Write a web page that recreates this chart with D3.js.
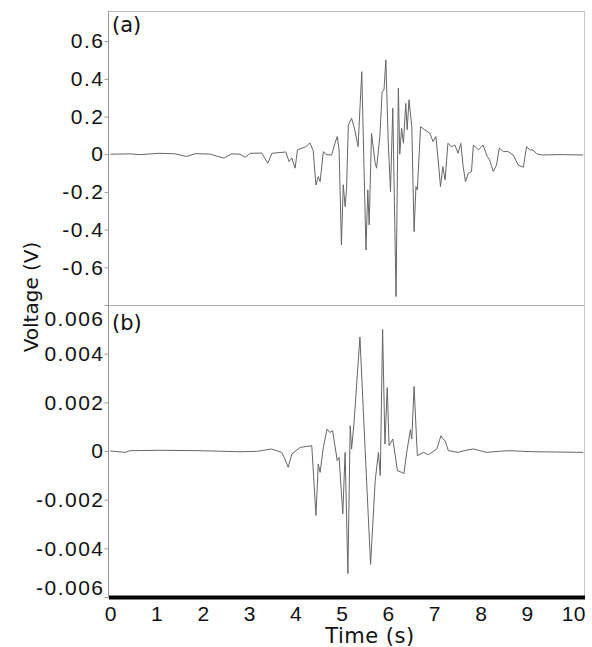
<!DOCTYPE html>
<html>
<head>
<meta charset="utf-8">
<script src="https://cdn.jsdelivr.net/npm/d3@7"></script>
<style>
  body { margin: 0; background: #fff; }
  svg { display: block; font-family: "DejaVu Sans", sans-serif; }
</style>
</head>
<body>
<script>
// panel (a): time (s) and voltage (V)
const timeA = [0, 0.42, 0.64, 1.07, 1.40, 1.65, 1.83, 2.15, 2.45, 2.62, 2.80, 2.91, 3.02, 3.27, 3.40, 3.49,
  3.79, 3.86, 3.92, 3.99, 4.04, 4.14, 4.22, 4.31, 4.38, 4.44, 4.49, 4.53, 4.60, 4.66, 4.78, 4.85, 4.90, 4.94,
  4.99, 5.03, 5.07, 5.10, 5.14, 5.21, 5.28, 5.35, 5.43, 5.52, 5.56, 5.59, 5.64, 5.72, 5.75, 5.82, 5.87, 5.91,
  5.95, 6.00, 6.05, 6.10, 6.17, 6.22, 6.25, 6.29, 6.33, 6.38, 6.41, 6.45, 6.51, 6.56, 6.60, 6.63, 6.70, 6.79,
  6.90, 6.97, 7.03, 7.08, 7.13, 7.18, 7.23, 7.29, 7.37, 7.44, 7.51, 7.57, 7.62, 7.67, 7.73, 7.80, 7.84, 7.95,
  8.05, 8.14, 8.19, 8.27, 8.34, 8.40, 8.49, 8.59, 8.70, 8.81, 8.92, 8.99, 9.06, 9.13, 9.21, 9.32, 9.71, 10.21];
const voltA = [0, 0.002, -0.002, 0.005, 0.002, -0.012, 0.003, 0.001, -0.021, 0.002, 0.0, -0.016, 0.005, 0.006, -0.048, 0.005,
  0.012, -0.039, -0.020, -0.074, 0.023, 0.032, 0.040, 0.060, 0.020, -0.163, -0.119, -0.145, 0.014, -0.002, -0.004, 0.058, 0.094, 0.023,
  -0.481, -0.162, -0.278, -0.189, 0.155, 0.191, 0.129, 0.040, 0.438, -0.508, -0.189, -0.375, 0.111, -0.048, -0.074, 0.094, 0.332, 0.341,
  0.500, 0.076, -0.199, 0.244, -0.755, 0.350, 0.0, 0.138, 0.058, 0.270, 0.130, 0.289, 0.146, -0.410, -0.172, -0.189, 0.146, 0.130,
  0.111, 0.067, 0.094, -0.030, -0.172, -0.066, -0.136, 0.058, 0.040, 0.049, 0.005, 0.058, -0.066, -0.146, -0.101, -0.092, 0.049, 0.023,
  0.049, -0.012, -0.030, -0.092, -0.057, 0.032, 0.014, 0.014, -0.004, -0.057, -0.069, 0.040, 0.023, 0.023, 0.002, -0.004, -0.002, -0.004];

// panel (b): time (s) and voltage (V)
const timeB = [0, 0.32, 0.42, 1.07, 1.94, 2.80, 3.16, 3.48, 3.70, 3.77, 3.84, 3.92, 4.10, 4.35, 4.44, 4.49, 4.53,
  4.60, 4.68, 4.74, 4.80, 4.90, 4.94, 5.02, 5.07, 5.13, 5.18, 5.21, 5.26, 5.39, 5.50, 5.62, 5.72, 5.79, 5.83,
  5.88, 5.93, 5.98, 6.02, 6.10, 6.20, 6.29, 6.34, 6.40, 6.48, 6.51, 6.56, 6.63, 6.76, 6.87, 7.05, 7.14, 7.18,
  7.23, 7.30, 7.51, 7.68, 7.84, 8.13, 8.41, 8.63, 9.13, 10.21];
const voltB = [0, -0.000057, 0.000012, 0.00003, 0.000012, -0.00003, -0.000016, 0.000082, -0.000057, -0.000328, -0.000672, -0.000123, 0.000147, 0.000217, -0.00265, -0.000533, -0.000877,
  0.000147, 0.000901, 0.000762, 0.000832, -0.000397, -0.000262, -0.002581, -0.000057, -0.00504, 0.001036, 0.000082, 0.001106, 0.004682, 0.000147, -0.004658, -0.001217, -0.000057, -0.001012,
  0.004998, 0.000287, 0.002605, 0.000217, 0.000492, -0.000807, -0.000877, -0.00093, -0.00007, 0.000873, 0.000492, 0.002654, -0.000193, -0.000057, -0.000152, 0.000082, 0.000627, 0.0005,
  0.000422, 0.000012, -0.000057, 0.00003, 0.000082, -0.000057, -0.000008, 0.000012, -0.00003, -0.000057];

const xTicks = [0, 1, 2, 3, 4, 5, 6, 7, 8, 9, 10];
const yTicksA = [-0.6, -0.4, -0.2, 0, 0.2, 0.4, 0.6];
const yTicksB = [-0.006, -0.004, -0.002, 0, 0.002, 0.004, 0.006];

let width = 592, height = 647;
let left = 109, right = 584;
let topA = 11, midY = 305, bottomB = 597;

let svg = d3.select('body').append('svg')
    .attr('width', width)
    .attr('height', height);

let xScale = d3.scaleLinear().domain([-0.03, 10.23]).range([left, right]);
let yScaleA = d3.scaleLinear().domain([-0.8, 0.76]).range([midY, topA]);
let yScaleB = d3.scaleLinear().domain([-0.006, 0.006]).range([bottomB, midY]);

// frame lines
svg.append('line').attr('x1', left).attr('x2', right).attr('y1', topA + 0.5).attr('y2', topA + 0.5)
    .attr('stroke', '#bdbdbd');
svg.append('line').attr('x1', right + 0.5).attr('x2', right + 0.5).attr('y1', topA).attr('y2', bottomB)
    .attr('stroke', '#c8c8c8');
svg.append('line').attr('x1', left).attr('x2', right).attr('y1', midY + 0.5).attr('y2', midY + 0.5)
    .attr('stroke', '#b0b0b0');

let drawYAxis = (scale, ticks, yTop, yBottom) => {
    let g = svg.append('g')
        .attr('transform', `translate(${left - 0.5},0)`)
        .call(d3.axisLeft(scale).tickValues(ticks).tickSize(4).tickPadding(0).tickFormat(d => String(d)));
    g.select('.domain').remove();
    g.append('line').attr('x1', 0).attr('x2', 0).attr('y1', yTop).attr('y2', yBottom).attr('stroke', '#999');
    g.selectAll('.tick line').attr('stroke', '#999');
    g.selectAll('.tick text')
        .attr('fill', '#111')
        .style('font-size', '21px')
        .style('letter-spacing', '1.5px');
    return g;
};

drawYAxis(yScaleA, yTicksA, topA, midY);
let gB = drawYAxis(yScaleB, yTicksB, midY, bottomB);
// the end labels of panel (b) sit inside the frame
gB.selectAll('.tick text')
    .attr('dy', d => d === 0.006 ? '0.98em' : d === -0.006 ? '-0.12em' : '0.32em');

// x axis
let xAxisG = svg.append('g')
    .attr('transform', `translate(0,${bottomB})`)
    .call(d3.axisBottom(xScale).tickValues(xTicks).tickSize(0).tickPadding(9).tickFormat(d => String(d)));
xAxisG.select('.domain').remove();
xAxisG.selectAll('.tick text')
    .attr('fill', '#111')
    .style('font-size', '21px')
    .style('letter-spacing', '0.5px');
svg.append('line')
    .attr('x1', left).attr('x2', right + 1)
    .attr('y1', bottomB + 0.5).attr('y2', bottomB + 0.5)
    .attr('stroke', '#000').attr('stroke-width', 4);

// traces
let lineA = d3.line().x((d, i) => xScale(timeA[i])).y(d => yScaleA(d));
let lineB = d3.line().x((d, i) => xScale(timeB[i])).y(d => yScaleB(d));

svg.append('path').datum(voltA)
    .attr('d', lineA)
    .attr('fill', 'none').attr('stroke', '#666').attr('stroke-width', 1);
svg.append('path').datum(voltB)
    .attr('d', lineB)
    .attr('fill', 'none').attr('stroke', '#666').attr('stroke-width', 1);

// panel labels
svg.append('text').attr('x', 112).attr('y', 32).style('font-size', '21px').attr('fill', '#111').text('(a)');
svg.append('text').attr('x', 112).attr('y', 330).style('font-size', '21px').attr('fill', '#111').text('(b)');

// axis titles
svg.append('text')
    .attr('x', 370).attr('y', 643)
    .attr('text-anchor', 'middle')
    .style('font-size', '21px').style('letter-spacing', '0.5px').attr('fill', '#111')
    .text('Time (s)');
svg.append('text')
    .attr('transform', 'translate(38,297) rotate(-90)')
    .attr('text-anchor', 'middle')
    .style('font-size', '20px').attr('fill', '#111')
    .text('Voltage (V)');
</script>
</body>
</html>
